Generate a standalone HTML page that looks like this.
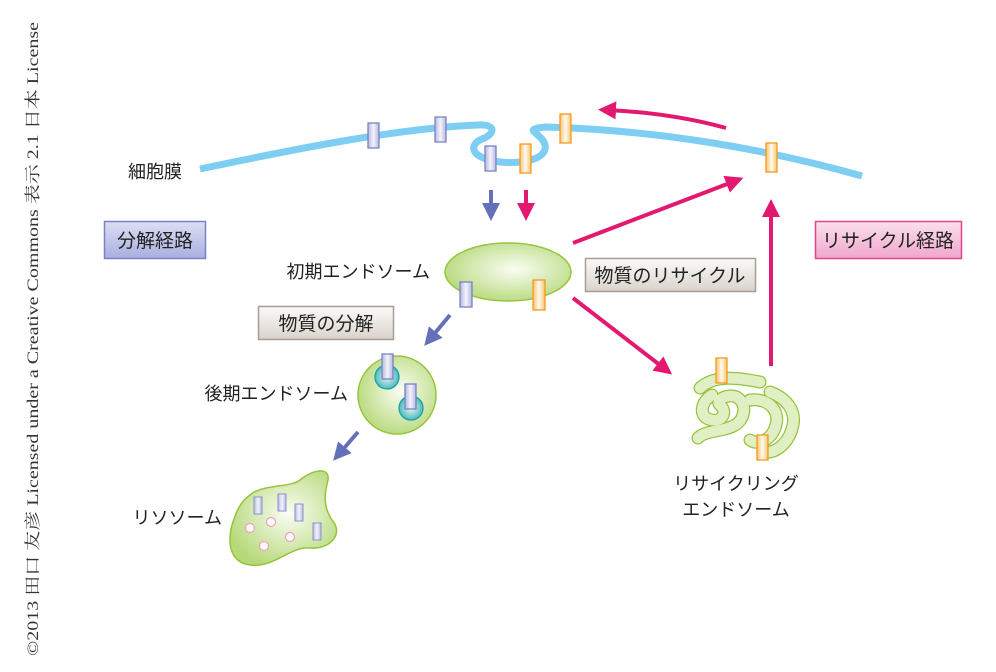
<!DOCTYPE html>
<html><head><meta charset="utf-8"><style>
html,body{margin:0;padding:0;background:#fff;}
svg{display:block;}
text{font-family:"Liberation Sans","Noto Sans CJK JP",sans-serif;}
</style></head><body>
<svg width="996" height="672" viewBox="0 0 996 672" xmlns="http://www.w3.org/2000/svg">
<defs>
<linearGradient id="pb" x1="0" y1="0" x2="1" y2="0"><stop offset="0" stop-color="#b4b8e0"/><stop offset="0.5" stop-color="#f4f4fc"/><stop offset="1" stop-color="#b4b8e0"/></linearGradient>
<linearGradient id="po" x1="0" y1="0" x2="1" y2="0"><stop offset="0" stop-color="#fbc26a"/><stop offset="0.5" stop-color="#fffbf2"/><stop offset="1" stop-color="#fbc26a"/></linearGradient>
<linearGradient id="bb" x1="0" y1="0" x2="0" y2="1"><stop offset="0" stop-color="#dcdff4"/><stop offset="1" stop-color="#a9aee0"/></linearGradient>
<linearGradient id="bp" x1="0" y1="0" x2="0" y2="1"><stop offset="0" stop-color="#fbe0ee"/><stop offset="1" stop-color="#f0a6cb"/></linearGradient>
<linearGradient id="bg" x1="0" y1="0" x2="0" y2="1"><stop offset="0" stop-color="#fbfaf8"/><stop offset="1" stop-color="#d9d3cc"/></linearGradient>
<radialGradient id="gr" cx="0.55" cy="0.45" r="0.6"><stop offset="0" stop-color="#fbfdf4"/><stop offset="1" stop-color="#b6d97a"/></radialGradient>
<radialGradient id="tl" cx="0.5" cy="0.5" r="0.5"><stop offset="0" stop-color="#e6f7f6"/><stop offset="1" stop-color="#4dbbbb"/></radialGradient>
<marker id="ab" viewBox="0 0 10 10" refX="5" refY="5" markerWidth="4.5" markerHeight="4.5" orient="auto"><path d="M0,0 L10,5 L0,10 z" fill="#6570bb"/></marker>
<marker id="ap" viewBox="0 0 10 10" refX="5" refY="5" markerWidth="4.5" markerHeight="4.5" orient="auto"><path d="M0,0 L10,5 L0,10 z" fill="#e3196f"/></marker>
</defs>

<text transform="translate(38,656) rotate(-90)" style="font-family:'Liberation Serif','Noto Serif CJK SC',serif" font-size="16" fill="#333" textLength="634" lengthAdjust="spacingAndGlyphs">©2013 田口 友彦 Licensed under a Creative Commons 表示 2.1 日本 License</text>

<path d="M200,169 C300,148 400,128 478,125 C498,124 494,135 482,139 C468,145 470,158 500,162 C520,164 548,160 545,145 C542,132 520,130 545,127 C660,130 770,150 862,176" fill="none" stroke="#7dcef2" stroke-width="7"/>

<g stroke-width="1.3">
<rect x="368" y="123" width="11" height="25" fill="url(#pb)" stroke="#7b82c4"/>
<rect x="435" y="117" width="11" height="25" fill="url(#pb)" stroke="#7b82c4"/>
<rect x="485" y="146" width="11" height="25" fill="url(#pb)" stroke="#7b82c4"/>
<rect x="520" y="144" width="11" height="29" fill="url(#po)" stroke="#f29a1e"/>
<rect x="560" y="114" width="11" height="29" fill="url(#po)" stroke="#f29a1e"/>
<rect x="766" y="143" width="11" height="29" fill="url(#po)" stroke="#f29a1e"/>
</g>

<g stroke-width="4" fill="none">
<line x1="491" y1="190" x2="491" y2="212" stroke="#6570bb" marker-end="url(#ab)"/>
<line x1="526" y1="190" x2="526" y2="212" stroke="#e3196f" marker-end="url(#ap)"/>
<line x1="450" y1="315" x2="430" y2="339" stroke="#6570bb" marker-end="url(#ab)"/>
<line x1="358" y1="432" x2="339" y2="454" stroke="#6570bb" marker-end="url(#ab)"/>
<line x1="573" y1="243" x2="735" y2="181" stroke="#e3196f" marker-end="url(#ap)"/>
<line x1="573" y1="298" x2="665" y2="369" stroke="#e3196f" marker-end="url(#ap)"/>
<line x1="771" y1="366" x2="771" y2="208" stroke="#e3196f" marker-end="url(#ap)"/>
<path d="M726,128 C690,118 650,112 607,110" stroke="#e3196f" marker-end="url(#ap)"/>
</g>

<ellipse cx="508" cy="272" rx="63" ry="29" fill="url(#gr)" stroke="#96c43c" stroke-width="1.5"/>
<rect x="460" y="282" width="12" height="25" fill="url(#pb)" stroke="#7b82c4" stroke-width="1.3"/>
<rect x="533" y="280" width="12" height="30" fill="url(#po)" stroke="#f29a1e" stroke-width="1.3"/>

<circle cx="397" cy="395" r="39" fill="url(#gr)" stroke="#96c43c" stroke-width="1.5"/>
<circle cx="387" cy="377" r="12" fill="url(#tl)" stroke="#1aa0a8" stroke-width="1.3"/>
<circle cx="411" cy="408" r="12" fill="url(#tl)" stroke="#1aa0a8" stroke-width="1.3"/>
<rect x="382" y="354" width="11" height="25" fill="url(#pb)" stroke="#7b82c4" stroke-width="1.3"/>
<rect x="405" y="384" width="11" height="25" fill="url(#pb)" stroke="#7b82c4" stroke-width="1.3"/>

<path d="M250,495 C262,484 290,488 300,480 C312,470 330,466 328,480 C325,492 322,505 332,520 C345,535 328,550 310,548 C290,546 275,568 250,565 C228,562 228,540 232,525 C236,512 240,502 250,495 z" fill="url(#gr)" stroke="#96c43c" stroke-width="1.5"/>
<g fill="url(#pb)" stroke="#8d94cc" stroke-width="1">
<rect x="254" y="497" width="8" height="17"/><rect x="278" y="494" width="8" height="17"/><rect x="295" y="504" width="8" height="17"/><rect x="313" y="523" width="8" height="17"/>
</g>
<g fill="#fff" stroke="#f0a0b8" stroke-width="1.2">
<circle cx="250" cy="528" r="4.5"/><circle cx="271" cy="522" r="4.5"/><circle cx="290" cy="537" r="4.5"/><circle cx="264" cy="546" r="4.5"/>
</g>

<g fill="none" stroke-linecap="round" stroke-linejoin="round">
<g stroke="#96c43c" stroke-width="13">
<path d="M700,388 C715,374 740,378 760,382"/>
<path d="M712,395 C700,402 698,418 712,420 C722,422 728,412 720,405 C714,400 730,392 738,398 C748,405 744,420 735,425 C724,432 705,430 698,438"/>
<path d="M750,400 C768,398 780,410 776,425 C772,440 758,446 750,440"/>
<path d="M770,392 C786,398 796,410 793,425 C790,440 780,450 770,452"/>
</g>
<g stroke="#e0f0c4" stroke-width="10.5">
<path d="M700,388 C715,374 740,378 760,382"/>
<path d="M712,395 C700,402 698,418 712,420 C722,422 728,412 720,405 C714,400 730,392 738,398 C748,405 744,420 735,425 C724,432 705,430 698,438"/>
<path d="M750,400 C768,398 780,410 776,425 C772,440 758,446 750,440"/>
<path d="M770,392 C786,398 796,410 793,425 C790,440 780,450 770,452"/>
</g>
</g>
<rect x="716" y="358" width="11" height="25" fill="url(#po)" stroke="#f29a1e" stroke-width="1.3"/>
<rect x="757" y="435" width="11" height="25" fill="url(#po)" stroke="#f29a1e" stroke-width="1.3"/>

<rect x="104.5" y="221.5" width="101" height="37" fill="url(#bb)" stroke="#7b82c4" stroke-width="1.5"/>
<text x="155" y="247" font-size="19" text-anchor="middle" fill="#222">分解経路</text>
<rect x="815.5" y="221.5" width="146" height="37" fill="url(#bp)" stroke="#e0468a" stroke-width="1.5"/>
<text x="888" y="247" font-size="19" text-anchor="middle" fill="#222">リサイクル経路</text>
<rect x="585.5" y="258.5" width="170" height="33" fill="url(#bg)" stroke="#a69d94" stroke-width="1.5"/>
<text x="670" y="282" font-size="19" text-anchor="middle" fill="#222">物質のリサイクル</text>
<rect x="258.5" y="306.5" width="135" height="33" fill="url(#bg)" stroke="#a69d94" stroke-width="1.5"/>
<text x="326" y="330" font-size="19" text-anchor="middle" fill="#222">物質の分解</text>

<g font-size="18" fill="#222">
<text x="128" y="178">細胞膜</text>
<text x="430" y="278" text-anchor="end">初期エンドソーム</text>
<text x="348" y="400" text-anchor="end">後期エンドソーム</text>
<text x="222" y="524" text-anchor="end">リソソーム</text>
<text x="736" y="490" text-anchor="middle">リサイクリング</text>
<text x="736" y="516" text-anchor="middle">エンドソーム</text>
</g>
</svg>
</body></html>
